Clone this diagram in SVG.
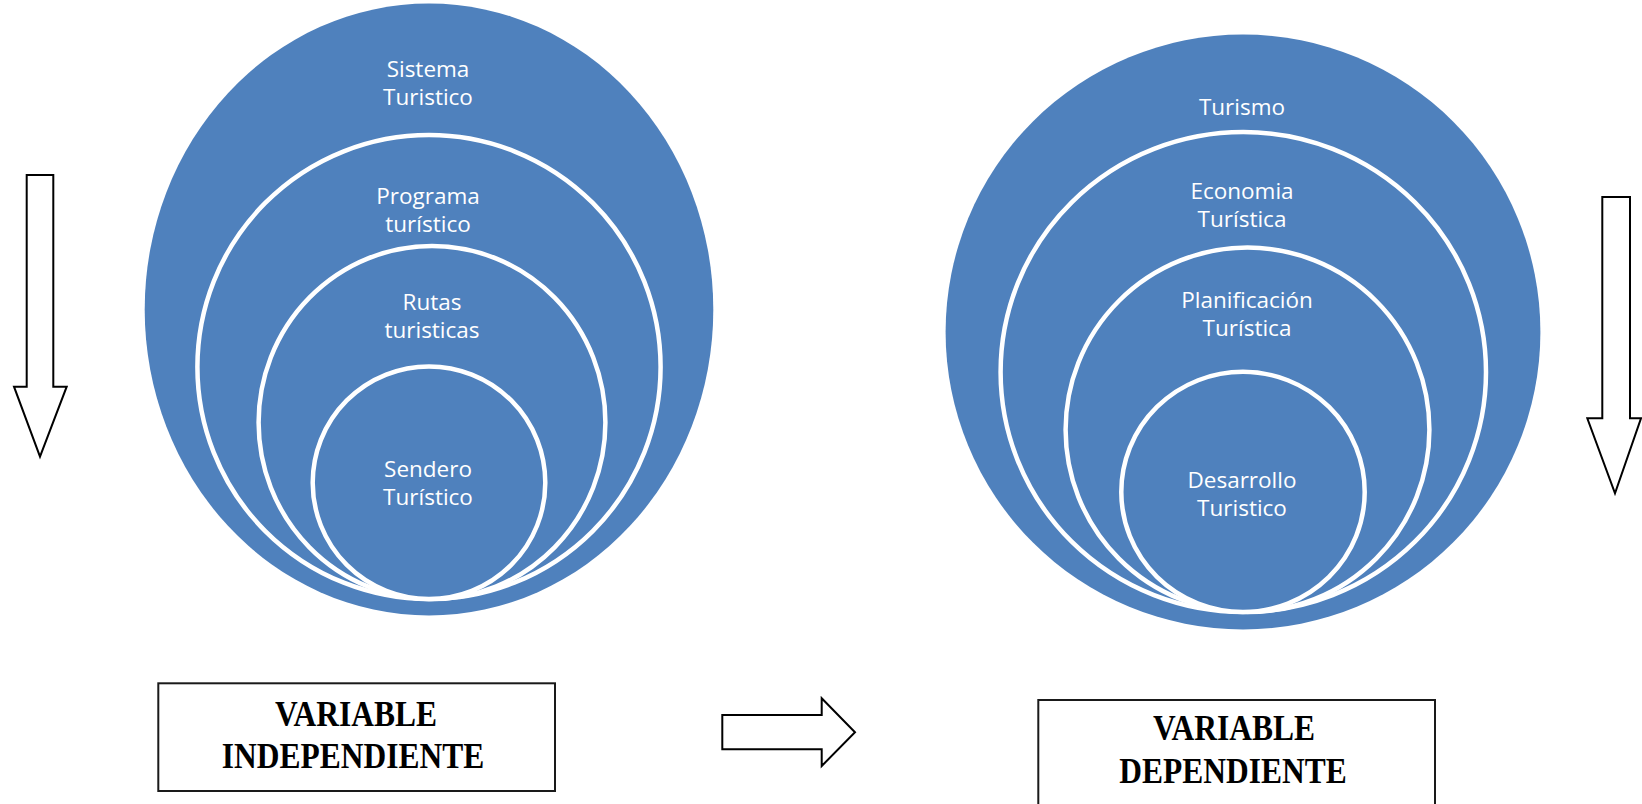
<svg xmlns="http://www.w3.org/2000/svg" width="1642" height="804" viewBox="0 0 1642 804">
<style>
.outer{fill:#4F81BD;}
.ring{fill:#4F81BD;stroke:#FFFFFF;stroke-width:4.5;}
.lbl{font-family:"Open Sans","Noto Sans",sans-serif;font-size:22.5px;fill:#FFFFFF;text-anchor:middle;}
.box{fill:#FFFFFF;stroke:#1a1a1a;stroke-width:2;}
.btxt{font-family:"Liberation Serif","Times New Roman",serif;font-weight:bold;font-size:31.5px;fill:#000000;text-anchor:middle;}
.arrow{fill:#FFFFFF;stroke:#000000;stroke-width:2;stroke-linejoin:miter;}
</style>
<rect width="1642" height="804" fill="#FFFFFF"/>
<g id="independent-circles">
  <g id="sistema-turistico">
    <ellipse class="outer" cx="429" cy="309.5" rx="284.3" ry="306"/>
    <text class="lbl" x="428" y="77">Sistema</text>
    <text class="lbl" x="428" y="105">Turistico</text>
  </g>
  <g id="programa-turistico">
    <ellipse class="ring" cx="429" cy="367" rx="231.6" ry="232"/>
    <text class="lbl" x="428" y="204">Programa</text>
    <text class="lbl" x="428" y="232">turístico</text>
  </g>
  <g id="rutas-turisticas">
    <ellipse class="ring" cx="432" cy="422.5" rx="173.4" ry="176.5"/>
    <text class="lbl" x="432" y="309.5">Rutas</text>
    <text class="lbl" x="432" y="337.5">turisticas</text>
  </g>
  <g id="sendero-turistico">
    <ellipse class="ring" cx="429" cy="482.7" rx="116.3" ry="116.3"/>
    <text class="lbl" x="428" y="477">Sendero</text>
    <text class="lbl" x="428" y="505">Turístico</text>
  </g>
</g>
<g id="dependent-circles">
  <g id="turismo">
    <ellipse class="outer" cx="1243" cy="332" rx="297.4" ry="297.4"/>
    <text class="lbl" x="1242" y="115">Turismo</text>
  </g>
  <g id="economia-turistica">
    <ellipse class="ring" cx="1243.3" cy="372" rx="242.7" ry="240"/>
    <text class="lbl" x="1242" y="199">Economia</text>
    <text class="lbl" x="1242" y="227">Turística</text>
  </g>
  <g id="planificacion-turistica">
    <ellipse class="ring" cx="1247.5" cy="429.8" rx="181.9" ry="182.2"/>
    <text class="lbl" x="1247" y="308">Planificación</text>
    <text class="lbl" x="1247" y="336">Turística</text>
  </g>
  <g id="desarrollo-turistico">
    <ellipse class="ring" cx="1243" cy="491.9" rx="121.7" ry="120.1"/>
    <text class="lbl" x="1242" y="488">Desarrollo</text>
    <text class="lbl" x="1242" y="516">Turistico</text>
  </g>
</g>
<g id="box-independiente">
  <rect class="box" x="158.3" y="683.3" width="396.7" height="107.7"/>
  <text class="btxt" transform="translate(356,726) scale(1,1.11)">VARIABLE</text>
  <text class="btxt" transform="translate(353,767.5) scale(1,1.11)">INDEPENDIENTE</text>
</g>
<g id="box-dependiente">
  <rect class="box" x="1038.3" y="700" width="396.7" height="110"/>
  <text class="btxt" transform="translate(1234,740) scale(1,1.11)">VARIABLE</text>
  <text class="btxt" transform="translate(1233,782.5) scale(1,1.11)">DEPENDIENTE</text>
</g>
<g id="connectors">
  <path id="arrow-left-down" class="arrow" d="M26.7,175 L53.3,175 L53.3,386.7 L66.7,386.7 L40,456.7 L14,386.7 L26.7,386.7 Z"/>
  <path id="arrow-right-down" class="arrow" d="M1602.3,197 L1630,197 L1630,418.3 L1641,418.3 L1615,493.3 L1587.3,418.3 L1602.3,418.3 Z"/>
  <path id="arrow-right" class="arrow" d="M722.3,715 L821.7,715 L821.7,698.3 L855,732.3 L821.7,766 L821.7,749.3 L722.3,749.3 Z"/>
</g>
</svg>
